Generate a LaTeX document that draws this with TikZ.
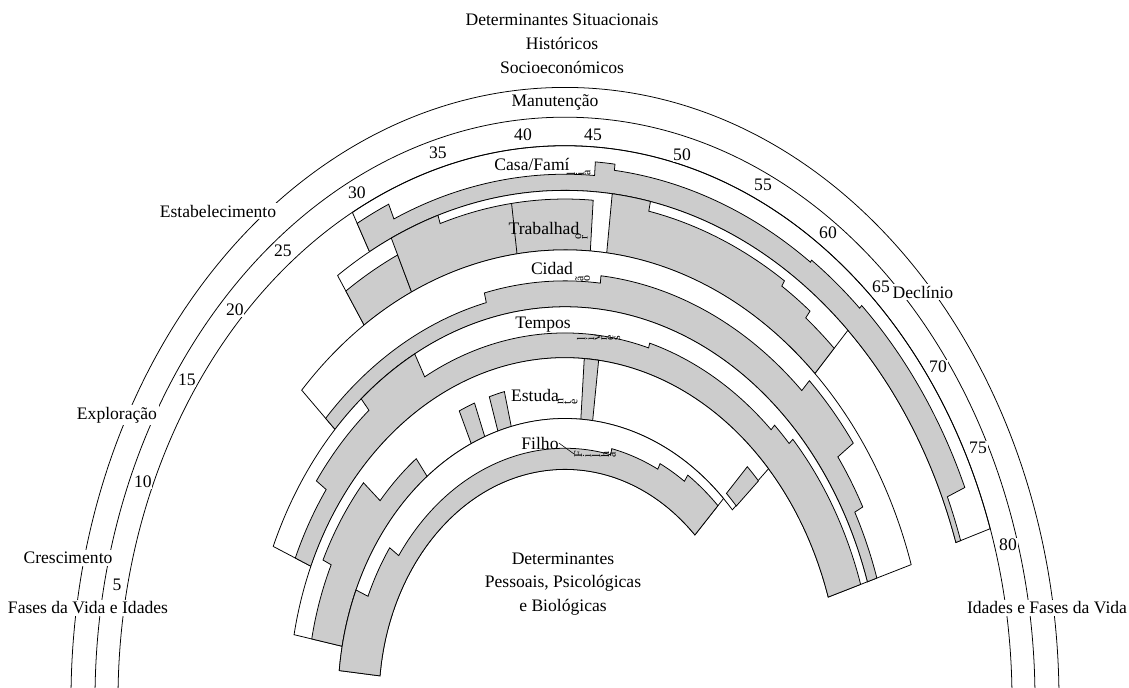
\documentclass[tikz,border=0pt]{standalone}
\usepackage{fontspec}
\setmainfont{Liberation Serif}
\usepackage{tikz}
\usetikzlibrary{positioning}
\definecolor{rolegrey}{RGB}{204,204,204}

% one role band (start angle, end angle, outer radius, inner radius)
\newcommand{\rolering}[4]{%
  \draw[bandbox] (#1:#4) -- (#1:#3) arc[start angle=#1, end angle=#2, radius=#3]
    -- (#2:#4) arc[start angle=#2, end angle=#1, radius=#4] -- cycle;}
% one plain grey block of a band
\newcommand{\rolebar}[4]{%
  \draw[busy] (#1:#4) -- (#1:#3) arc[start angle=#1, end angle=#2, radius=#3]
    -- (#2:#4) arc[start angle=#2, end angle=#1, radius=#4] -- cycle;}
% a glyph laid on its side
\newcommand{\sidechar}[1]{\rotatebox{90}{#1}\kern0.6pt}

\begin{document}
\begin{tikzpicture}[
    x=0.025cm, y=0.025cm,
    bandbox/.style={draw=black, fill=white, line width=0.55pt},
    busy/.style={draw=black, fill=rolegrey, line width=0.55pt},
    rim/.style={draw=black, line width=0.55pt},
    stage/.style={font=\fontsize{12.5}{17}\selectfont, fill=white, inner sep=1.5pt},
    agelbl/.style={font=\fontsize{12.5}{15}\selectfont, fill=white, inner sep=0.5pt},
    rolelbl/.style={font=\fontsize{12.5}{15}\selectfont, inner sep=0pt},
    tail/.style={font=\fontsize{8.5}{8.5}\selectfont, inner sep=0pt},
    heading/.style={font=\fontsize{12.5}{17}\selectfont, align=center},
]
\useasboundingbox (-565,12) rectangle (564,700);
\clip (-565,12) rectangle (564,700);

\begin{scope}[yscale=1.24]
% === Casa/Familia ===
\rolering{118.4}{18}{447}{411}
\draw[busy] (118.4:411) -- (118.4:437) arc[start angle=118.4, end angle=113.8, radius=437]
  -- (113.8:424) arc[start angle=113.8, end angle=86, radius=424]
  -- (86:435) arc[start angle=86, end angle=83.4, radius=435]
  -- (83.4:430) arc[start angle=83.4, end angle=55.2, radius=430]
  -- (55.2:432) arc[start angle=55.2, end angle=47, radius=432]
  -- (47:435) arc[start angle=47, end angle=23.2, radius=435]
  -- (23.2:416) arc[start angle=23.2, end angle=18, radius=416]
  -- (18:411) arc[start angle=18, end angle=118.4, radius=411] -- cycle;

% === Trabalhador ===
\rolering{123.6}{46.5}{411}{363}
\rolebar{123.6}{115}{396}{363}
\draw[busy] (115:363) -- (115:411) arc[start angle=115, end angle=108, radius=411]
  -- (108:404) arc[start angle=108, end angle=86, radius=404]
  -- (86:363) arc[start angle=86, end angle=115, radius=363] -- cycle;
\draw[rim] (97.6:363) -- (97.6:404);
\draw[busy] (83.4:363) -- (83.4:411) arc[start angle=83.4, end angle=78, radius=411]
  -- (78:403) arc[start angle=78, end angle=57, radius=403]
  -- (57:398) arc[start angle=57, end angle=52, radius=398]
  -- (52:391) arc[start angle=52, end angle=46.5, radius=391]
  -- (46.5:363) arc[start angle=46.5, end angle=83.4, radius=363] -- cycle;

% === Cidadao ===
\rolering{136.5}{17.5}{363}{317}
\draw[busy] (136.5:317) -- (136.5:330) arc[start angle=136.5, end angle=103.8, radius=330]
  -- (103.8:338) arc[start angle=103.8, end angle=84, radius=338]
  -- (84:344) arc[start angle=84, end angle=46.5, radius=344]
  -- (46.5:355) arc[start angle=46.5, end angle=35.7, radius=355]
  -- (35.7:336) arc[start angle=35.7, end angle=27.6, radius=336]
  -- (27.6:327) arc[start angle=27.6, end angle=17.5, radius=327]
  -- (17.5:317) arc[start angle=17.5, end angle=136.5, radius=317] -- cycle;

% === Tempos livres ===
\rolering{157}{17.5}{317}{276}
\draw[busy] (157:276) -- (157:293) arc[start angle=157, end angle=144.6, radius=293]
  -- (144.6:305) arc[start angle=144.6, end angle=130, radius=305]
  -- (130:317) arc[start angle=130, end angle=118.3, radius=317]
  -- (118.3:296) arc[start angle=118.3, end angle=73.6, radius=296]
  -- (73.6:300) arc[start angle=73.6, end angle=46.6, radius=300]
  -- (46.6:305) arc[start angle=46.6, end angle=42.7, radius=305]
  -- (42.7:310) arc[start angle=42.7, end angle=17.5, radius=310]
  -- (17.5:276) arc[start angle=17.5, end angle=157, radius=276] -- cycle;

% === Estudante ===
\rolering{169}{42.5}{276}{227}
\draw[busy] (169:227) -- (169:258) arc[start angle=169, end angle=155, radius=258]
  -- (155:267) arc[start angle=155, end angle=139, radius=267]
  -- (139:245) arc[start angle=139, end angle=127.4, radius=245]
  -- (127.4:227) arc[start angle=127.4, end angle=169, radius=227] -- cycle;
\rolebar{114.4}{110.7}{256}{227}
\rolebar{107.2}{103.7}{256}{227}
\rolebar{86}{83}{276}{227}
\rolebar{45.9}{42.4}{262}{232}

% === Filho ===
\rolering{174}{45.7}{227}{186}
\draw[busy] (174:186) -- (174:227) arc[start angle=174, end angle=157, radius=227]
  -- (157:214) arc[start angle=157, end angle=145, radius=214]
  -- (145:203) arc[start angle=145, end angle=77, radius=203]
  -- (77:208) arc[start angle=77, end angle=63.5, radius=208]
  -- (63.5:213) arc[start angle=63.5, end angle=55.9, radius=213]
  -- (55.9:219) arc[start angle=55.9, end angle=45.7, radius=219]
  -- (45.7:186) arc[start angle=45.7, end angle=174, radius=186] -- cycle;

% === Outer rims ===
\draw[rim] (0:494) arc[start angle=0, end angle=180, radius=494];
\draw[rim] (0:470) arc[start angle=0, end angle=180, radius=470];
\draw[rim] (0:447) arc[start angle=0, end angle=180, radius=447];
\end{scope}

% === Headings ===
\node[heading] (situ) at (-3,656) {Determinantes Situacionais\\Históricos\\Socioeconómicos};
\node[heading] (pess) at (-2,116) {Determinantes\\Pessoais, Psicológicas\\e Biológicas};

% === Life stages ===
\node[font=\fontsize{12.5}{17}\selectfont] (manut) at (-10,598) {Manutenção};
\node[stage] (estab) at (-347,489) {Estabelecimento};
\node[stage] (explor) at (-448,285) {Exploração};
\node[stage] (cresc) at (-497,142) {Crescimento};
\node[stage] (declin) at (358,408) {Declínio};
\node[stage] (fasesL) at (-477,92) {Fases da Vida e Idades};
\node[stage] (fasesR) at (482,92) {Idades e Fases da Vida};

% === Ages ===
\foreach \a/\px/\py in {5/-448/115, 10/-422/218, 15/-378/320, 20/-330/390,
    25/-282/449, 30/-208/507, 35/-127/547, 40/-42/565, 45/28/565, 50/117/545,
    55/198/515, 60/263/467, 65/316/413, 70/373/333, 75/413/252, 80/443/155}
  \node[agelbl] (age\a) at (\px,\py) {\a};

% === Roles ===
\node[rolelbl] (casa) at (-33,536) {Casa/Famí};
\node[rolelbl] (trab) at (-21,472) {Trabalhad};
\node[rolelbl] (cidad) at (-13,432) {Cidad};
\node[rolelbl] (tempos) at (-22,375) {Tempos};
\node[rolelbl] (estuda) at (-30,305) {Estuda};
\node[rolelbl] (filho) at (-25,257) {Filho};

% squeezed word ends
\node[tail] (casatail) at (14,527) {\sidechar{l}\sidechar{i}\sidechar{a}};
\node[tail] (trabtail) at (17,463) {\sidechar{o}\sidechar{r}};
\node[tail] (cidadtail) at (18,421) {\sidechar{ã}\sidechar{o}};
\node[tail] (tempostail) at (34,362) {\sidechar{l}\sidechar{i}\sidechar{v}\sidechar{r}\sidechar{e}\sidechar{s}};
\node[tail] (estudatail) at (3,298) {\sidechar{n}\sidechar{t}\sidechar{e}};
\coordinate (filhotip) at (9,246);
\draw[line width=0.4pt] (filho.east) -- (filhotip);
\node[tail, anchor=west] (filhotail) at (filhotip) {\sidechar{F}\sidechar{i}\sidechar{l}\sidechar{h}\sidechar{a}};

\end{tikzpicture}
\end{document}
